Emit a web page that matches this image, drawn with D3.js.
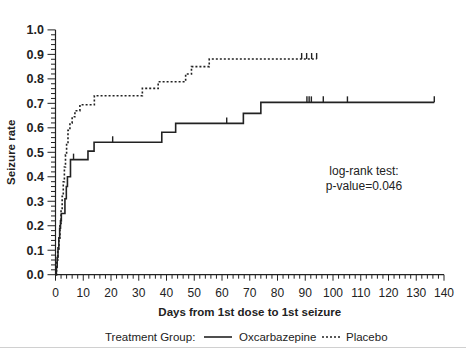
<!DOCTYPE html>
<html><head><meta charset="utf-8">
<script src="https://cdn.jsdelivr.net/npm/d3@7"></script>
<style>
body{margin:0;background:#fff;}
svg{display:block;}
text{font-family:"Liberation Sans Narrow","Arial Narrow","Liberation Sans",sans-serif;fill:#222;}
</style></head>
<body>
<svg id="c" width="466" height="349"></svg>
<script>
// ---- data ----
const oxDays  = [0, 0.3, 0.6, 0.9, 1.2, 1.5, 1.8, 2.1, 3.4, 3.9, 4.3, 5.4, 11.7, 13.9, 38.3, 43.3, 67.7, 74.0];
const oxRate  = [0, 0.03, 0.07, 0.11, 0.15, 0.19, 0.22, 0.25, 0.31, 0.36, 0.40, 0.47, 0.505, 0.541, 0.582, 0.618, 0.659, 0.704];
const oxEnd = 136.5;
const oxCensor = [6.5, 20.6, 61.7, 90.6, 91.4, 92.2, 96.5, 105.2, 136.5];

const plDays  = [0, 0.4, 0.8, 1.2, 1.6, 2.0, 2.4, 2.8, 3.2, 3.6, 4.0, 4.5, 5.2, 6.0, 7.0, 8.8, 14.0, 31.3, 37.0, 46.9, 49.0, 55.4];
const plRate  = [0, 0.05, 0.10, 0.15, 0.20, 0.26, 0.32, 0.38, 0.44, 0.49, 0.54, 0.59, 0.62, 0.645, 0.67, 0.694, 0.731, 0.761, 0.788, 0.82, 0.85, 0.881];
const plEnd = 94.1;
const plCensor = [88.7, 90.5, 92.3, 94.1];

const xTicks = d3.range(0, 141, 10);
const yTicks = d3.range(0, 1.001, 0.1);
const xTitle = "Days from 1st dose to 1st seizure";
const yTitle = "Seizure rate";
const legendTitle = "Treatment Group:";
const seriesNames = ["Oxcarbazepine", "Placebo"];
const statLines = ["log-rank test:", "p-value=0.046"];

// ---- chart ----
const svg = d3.select("#c");
const x = d3.scaleLinear().domain([0, 140]).range([55.5, 444]);
const y = d3.scaleLinear().domain([0, 1]).range([274.7, 29.9]);
const ink = "#222";

// border lines of the photo frame
svg.append("line").attr("x1",0).attr("x2",466).attr("y1",347.5).attr("y2",347.5).attr("stroke","#d0d0d0");

// y axis
const gy = svg.append("g");
gy.append("line").attr("x1",x(0)).attr("x2",x(0)).attr("y1",y(0)).attr("y2",y(1)).attr("stroke",ink).attr("stroke-width",1.2);
d3.range(0, 1.0001, 0.02).forEach(v=>{
  const major = Math.abs(v*10 - Math.round(v*10)) < 1e-6;
  gy.append("line").attr("x1",x(0)).attr("x2",x(0)-(major?8:4.5))
    .attr("y1",y(v)).attr("y2",y(v)).attr("stroke",ink).attr("stroke-width",1);
});
gy.selectAll("text.yl").data(yTicks).enter().append("text")
  .attr("x",44).attr("y",d=>y(d)).attr("dy","0.36em").attr("text-anchor","end")
  .attr("font-size",12.5).attr("font-weight","bold").text(d=>d.toFixed(1));
svg.append("text").attr("transform",`translate(15,${y(0.5)}) rotate(-90)`)
  .attr("text-anchor","middle").attr("font-size",11.5).attr("font-weight","bold").text(yTitle);

// x axis
const gx = svg.append("g");
gx.append("line").attr("x1",x(0)).attr("x2",x(140)).attr("y1",y(0)).attr("y2",y(0)).attr("stroke",ink).attr("stroke-width",1.2);
d3.range(0, 141, 2).forEach(v=>{
  const major = v % 10 === 0;
  gx.append("line").attr("x1",x(v)).attr("x2",x(v)).attr("y1",y(0)).attr("y2",y(0)+(major?6:4))
    .attr("stroke",ink).attr("stroke-width",1);
});
gx.selectAll("text.xl").data(xTicks).enter().append("text")
  .attr("x",d=>x(d)).attr("y",297).attr("text-anchor","middle")
  .attr("font-size",12).text(d=>d);
svg.append("text").attr("x",x(70)).attr("y",316).attr("text-anchor","middle")
  .attr("font-size",11.5).attr("font-weight","bold").text(xTitle);

// curves
function stepData(days, rate, end){
  const pts = days.map((d,i)=>[d, rate[i]]);
  pts.push([end, rate[rate.length-1]]);
  return pts;
}
function levelAt(days, rate, t){
  let v = 0;
  for (let i=0;i<days.length;i++) if (days[i] <= t) v = rate[i];
  return v;
}
const line = d3.line().x(d=>x(d[0])).y(d=>y(d[1])).curve(d3.curveStepAfter);

svg.append("path").datum(stepData(oxDays, oxRate, oxEnd)).attr("d", line)
  .attr("fill","none").attr("stroke",ink).attr("stroke-width",1.6);
svg.append("path").datum(stepData(plDays, plRate, plEnd)).attr("d", line)
  .attr("fill","none").attr("stroke",ink).attr("stroke-width",1.6).attr("stroke-dasharray","2,2");

svg.selectAll("line.oc").data(oxCensor).enter().append("line")
  .attr("x1",d=>x(d)).attr("x2",d=>x(d))
  .attr("y1",d=>y(levelAt(oxDays,oxRate,d))).attr("y2",d=>y(levelAt(oxDays,oxRate,d))-6)
  .attr("stroke",ink).attr("stroke-width",1.4);
svg.selectAll("line.pc").data(plCensor).enter().append("line")
  .attr("x1",d=>x(d)).attr("x2",d=>x(d))
  .attr("y1",d=>y(levelAt(plDays,plRate,d))).attr("y2",d=>y(levelAt(plDays,plRate,d))-6)
  .attr("stroke",ink).attr("stroke-width",1.4);

// stat text
svg.selectAll("text.st").data(statLines).enter().append("text")
  .attr("x",364).attr("y",(d,i)=>175+i*15).attr("text-anchor","middle")
  .attr("font-size",12).text(d=>d);

// legend
const lg = svg.append("g");
lg.append("text").attr("x",105).attr("y",341).attr("font-size",11.5).text(legendTitle);
lg.append("line").attr("x1",204).attr("x2",232).attr("y1",337).attr("y2",337).attr("stroke",ink).attr("stroke-width",1.6);
lg.append("text").attr("x",239).attr("y",341).attr("font-size",11.5).text(seriesNames[0]);
lg.append("line").attr("x1",322).attr("x2",342).attr("y1",337).attr("y2",337).attr("stroke",ink).attr("stroke-width",1.6).attr("stroke-dasharray","2,2");
lg.append("text").attr("x",346).attr("y",341).attr("font-size",11.5).text(seriesNames[1]);
</script>
</body></html>
